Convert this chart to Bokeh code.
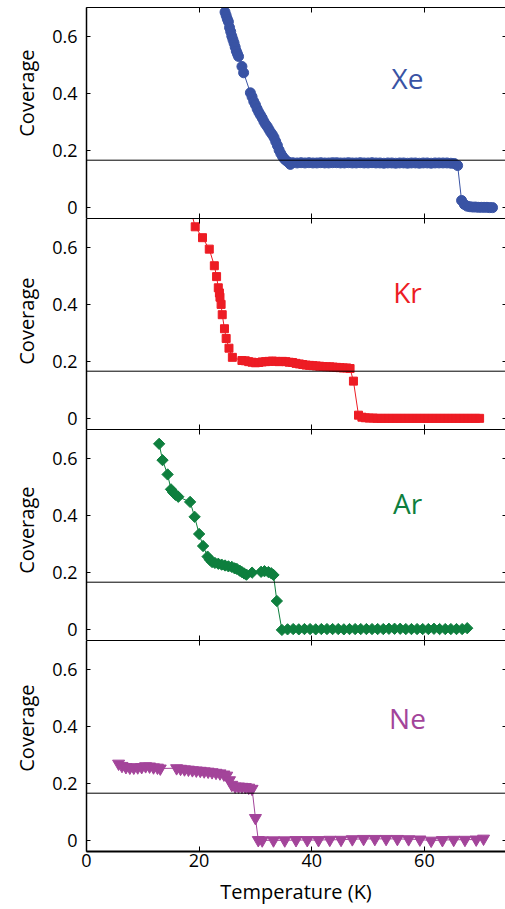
from bokeh.plotting import figure
from bokeh.models import Span, Label, LinearAxis, Range1d, Title
from bokeh.layouts import column
from bokeh.embed import file_html
from bokeh.resources import INLINE

FONT = "Open Sans"
X_TICKS = [0, 20, 40, 60]
Y_TICKS = [0, 0.2, 0.4, 0.6]
MONOLAYER = 1 / 6
X_LABEL = "Temperature (K)"
Y_LABEL = "Coverage"

# ---- Xe ----
xe_T = [24.6, 24.8, 25.0, 25.2, 25.4, 25.6, 25.8, 26.0, 26.2, 26.4, 26.6, 26.8, 27.0,
        27.6, 27.9, 29.1, 29.4, 29.7, 30.0, 30.3, 30.6, 30.9, 31.2, 31.5, 31.8, 32.1,
        32.4, 32.7, 33.0, 33.3, 33.6, 33.9, 34.2, 34.5, 34.8, 35.1, 35.4, 35.8, 36.2,
        36.6, 37.4, 38.1, 38.8, 39.5, 40.2, 40.9, 41.6, 42.3, 43.0, 43.7, 44.4, 45.1,
        45.8, 46.5, 47.2, 47.9, 48.6, 49.3, 50.0, 50.7, 51.4, 52.1, 52.8, 53.5, 54.2,
        54.9, 55.6, 56.3, 57.0, 57.7, 58.4, 59.1, 59.8, 60.5, 61.2, 61.9, 62.6, 63.3,
        64.0, 64.7, 65.3, 65.9, 66.6, 67.1, 67.6, 68.1, 68.6, 69.1, 69.6, 70.1, 70.6,
        71.1, 71.6, 72.1]
xe_C = [0.684, 0.672, 0.660, 0.650, 0.630, 0.616, 0.600, 0.588, 0.576, 0.562, 0.548, 0.538, 0.529,
        0.494, 0.472, 0.402, 0.388, 0.372, 0.360, 0.346, 0.334, 0.324, 0.314, 0.302, 0.292, 0.284,
        0.274, 0.264, 0.256, 0.246, 0.232, 0.218, 0.202, 0.190, 0.180, 0.172, 0.166, 0.160, 0.152,
        0.158, 0.157, 0.158, 0.157, 0.158, 0.157, 0.157, 0.158, 0.157, 0.157, 0.158, 0.158, 0.157,
        0.157, 0.158, 0.157, 0.157, 0.158, 0.157, 0.157, 0.158, 0.157, 0.157, 0.156, 0.157, 0.157,
        0.156, 0.157, 0.157, 0.156, 0.157, 0.157, 0.156, 0.157, 0.157, 0.156, 0.157, 0.157, 0.157,
        0.157, 0.156, 0.155, 0.148, 0.026, 0.012, 0.006, 0.004, 0.003, 0.003, 0.002, 0.002, 0.002,
        0.002, 0.001, 0.001]

# ---- Kr ----
kr_T = [18.3, 19.3, 20.6, 21.8, 22.7, 23.1, 23.4, 23.6, 23.7, 23.9, 24.1, 24.5, 24.8, 25.3, 25.9,
        27.6, 28.2, 28.8, 29.4, 30.0, 30.6, 31.2, 31.8, 32.4, 33.0, 33.6, 34.2, 34.8, 35.4, 36.0,
        36.6, 37.2, 37.8, 38.4, 39.0, 39.6, 40.2, 40.8, 41.4, 42.0, 42.6, 43.2, 43.8, 44.4, 45.0,
        45.6, 46.2, 46.8, 47.4, 48.3, 48.9, 49.5, 50.2, 50.9, 51.6, 52.3, 53.0, 53.7, 54.4, 55.1,
        55.8, 56.5, 57.2, 57.9, 58.6, 59.3, 60.0, 60.7, 61.4, 62.1, 62.8, 63.5, 64.2, 64.9, 65.6,
        66.3, 67.0, 67.7, 68.4, 69.1, 69.8]
kr_C = [0.745, 0.671, 0.633, 0.593, 0.535, 0.497, 0.458, 0.440, 0.425, 0.400, 0.364, 0.315, 0.281, 0.247, 0.215,
        0.204, 0.203, 0.200, 0.198, 0.196, 0.197, 0.199, 0.200, 0.201, 0.202, 0.201, 0.200, 0.201, 0.200, 0.198,
        0.197, 0.194, 0.192, 0.190, 0.188, 0.187, 0.186, 0.185, 0.184, 0.183, 0.182, 0.182, 0.181, 0.180, 0.179,
        0.178, 0.178, 0.176, 0.132, 0.013, 0.006, 0.004, 0.003, 0.003, 0.002, 0.002, 0.002, 0.002, 0.002, 0.002,
        0.002, 0.002, 0.002, 0.002, 0.002, 0.002, 0.002, 0.002, 0.002, 0.002, 0.002, 0.002, 0.002, 0.002, 0.002,
        0.002, 0.002, 0.002, 0.002, 0.002, 0.002]

# ---- Ar ----
ar_T = [12.9, 13.5, 14.4, 15.0, 15.4, 15.8, 16.3, 18.4, 19.2, 20.0, 20.7, 21.5, 21.9, 22.3, 22.8,
        23.4, 24.0, 24.6, 25.2, 25.8, 26.3, 26.7, 27.2, 27.6, 28.0, 28.4, 29.4, 31.0, 31.6, 32.3,
        32.8, 33.2, 33.8, 34.7, 35.7, 36.7, 37.7, 38.7, 39.7, 40.7, 41.7, 42.7, 43.7, 44.7, 45.7,
        46.7, 47.7, 48.7, 49.7, 50.7, 51.7, 52.7, 53.7, 54.7, 55.7, 56.7, 57.7, 58.7, 59.7, 60.7,
        61.7, 62.7, 63.7, 64.7, 65.7, 66.7, 67.6]
ar_C = [0.650, 0.593, 0.543, 0.491, 0.480, 0.472, 0.465, 0.447, 0.395, 0.335, 0.293, 0.256, 0.245, 0.237, 0.234,
        0.231, 0.228, 0.225, 0.222, 0.220, 0.215, 0.213, 0.207, 0.202, 0.197, 0.193, 0.200, 0.203, 0.205, 0.202,
        0.198, 0.192, 0.101, 0.000, 0.002, 0.003, 0.002, 0.003, 0.003, 0.002, 0.003, 0.003, 0.003, 0.003, 0.002,
        0.003, 0.003, 0.003, 0.003, 0.003, 0.003, 0.003, 0.004, 0.004, 0.004, 0.003, 0.003, 0.003, 0.003, 0.003,
        0.004, 0.003, 0.003, 0.003, 0.003, 0.003, 0.006]

# ---- Ne ----
ne_T = [5.7, 6.3, 7.0, 7.7, 8.4, 9.1, 9.8, 10.5, 11.2, 11.9, 12.6, 13.1,
        16.0, 16.7, 17.4, 18.1, 18.8, 19.5, 20.2, 20.9, 21.6, 22.3, 23.0, 23.7, 24.4, 24.9,
        25.4, 25.8, 26.4, 27.0, 27.6, 28.2, 28.8, 29.4, 30.0, 30.5, 31.2, 33.2, 35.2, 37.2,
        39.2, 41.2, 43.2, 45.2, 47.2, 49.2, 51.2, 53.2, 55.2, 57.2, 59.2, 61.2, 63.2, 65.2,
        67.2, 69.2, 70.5]
ne_C = [0.270, 0.262, 0.258, 0.256, 0.256, 0.257, 0.258, 0.261, 0.260, 0.257, 0.256, 0.253,
        0.254, 0.252, 0.250, 0.249, 0.247, 0.246, 0.245, 0.243, 0.242, 0.240, 0.238, 0.236, 0.232, 0.228,
        0.212, 0.196, 0.190, 0.190, 0.189, 0.188, 0.186, 0.182, 0.080, 0.003, 0.002, 0.002, 0.002, 0.003,
        0.003, 0.003, 0.004, 0.004, 0.006, 0.007, 0.007, 0.007, 0.007, 0.006, 0.005, 0.001, 0.003, 0.004,
        0.004, 0.005, 0.008]

# name, T, coverage, colour, marker, size, angle, name-label y, y-title distance from top (px)
PANELS = [
    ("Xe", xe_T, xe_C, "#3953A4", "circle", 10, 0.0, 0.455, 42),
    ("Kr", kr_T, kr_C, "#ED1C24", "square", 8, 0.0, 0.445, 59),
    ("Ar", ar_T, ar_C, "#0E7F3E", "square", 8, 0.785398, 0.445, 57),
    ("Ne", ne_T, ne_C, "#A3449A", "inverted_triangle", 12, 0.0, 0.43, 44),
]

WIDTH = 505
FRAME_H = 211
TOP_PAD = 7
BOTTOM_H = 57


def tick_only_axis(ax, ticks, tick_in):
    ax.ticker = ticks
    ax.major_tick_in = tick_in
    ax.major_tick_out = 0
    ax.minor_tick_line_color = None
    ax.axis_line_width = 1
    ax.major_label_text_color = None
    ax.major_label_text_font_size = "0px"
    ax.major_label_standoff = 0


def make_panel(name, T, C, color, marker, size, angle, label_y, title_off, first, last):
    top_b = TOP_PAD if first else 0
    bot_b = BOTTOM_H if last else 0
    p = figure(width=WIDTH, height=FRAME_H + top_b + bot_b,
               x_range=Range1d(0, 74.4), y_range=Range1d(-0.037, 0.70),
               output_backend="svg", toolbar_location=None,
               min_border_left=86, min_border_right=0, min_border_top=top_b,
               min_border_bottom=bot_b,
               outline_line_color=None, background_fill_color="white",
               border_fill_color="white")
    p.xgrid.visible = False
    p.ygrid.visible = False

    yax = p.yaxis[0]
    yax.ticker = Y_TICKS
    yax.major_tick_in = 4
    yax.major_tick_out = 0
    yax.minor_tick_line_color = None
    yax.axis_line_width = 1.5
    yax.major_label_text_font = FONT
    yax.major_label_text_font_size = "18px"
    yax.major_label_text_color = "black"
    yax.major_label_standoff = 9

    p.add_layout(Title(text=Y_LABEL, align="right", offset=title_off,
                       standoff=20, text_font=FONT, text_font_size="20px",
                       text_font_style="normal", text_color="black"), "left")

    xax = p.xaxis[0]
    if last:
        xax.ticker = X_TICKS
        xax.major_tick_in = 5
        xax.major_tick_out = 0
        xax.minor_tick_line_color = None
        xax.axis_line_width = 2
        xax.major_label_text_font = FONT
        xax.major_label_text_font_size = "18px"
        xax.major_label_text_color = "black"
        xax.major_label_standoff = 2
        xax.axis_label = X_LABEL
        xax.axis_label_text_font = FONT
        xax.axis_label_text_font_size = "20px"
        xax.axis_label_text_font_style = "normal"
        xax.axis_label_text_color = "black"
        xax.axis_label_standoff = 8
    else:
        tick_only_axis(xax, X_TICKS, 5)

    top = LinearAxis()
    tick_only_axis(top, X_TICKS, 5)
    p.add_layout(top, "above")

    right = LinearAxis()
    tick_only_axis(right, Y_TICKS, 3)
    right.axis_line_color = None
    p.add_layout(right, "right")

    p.add_layout(Span(location=MONOLAYER, dimension="width",
                      line_color="black", line_width=1))

    p.line(T, C, line_color=color, line_width=1)
    p.scatter(T, C, marker=marker, size=size, angle=angle,
              fill_color=color, line_color=color)

    p.add_layout(Label(x=57.0, y=label_y, text=name, text_font=FONT,
                       text_font_size="28px", text_color=color,
                       text_align="center", text_baseline="middle"))
    return p


plots = []
n = len(PANELS)
for i, (name, T, C, color, marker, size, angle, ly, to) in enumerate(PANELS):
    plots.append(make_panel(name, T, C, color, marker, size, angle, ly, to, i == 0, i == n - 1))

layout = column(*plots, spacing=0)
open("out.html", "w").write(file_html(layout, INLINE))
